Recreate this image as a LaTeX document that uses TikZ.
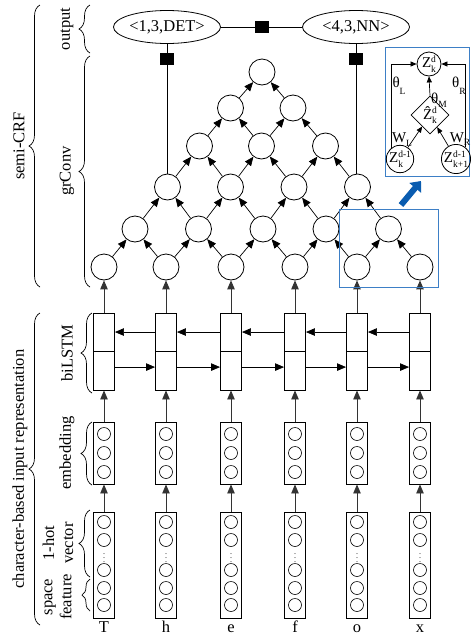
\documentclass[tikz,border=0pt]{standalone}
\usepackage{fontspec}
\setmainfont{Liberation Serif}
\usetikzlibrary{shapes.geometric,decorations.pathreplacing,arrows.meta,calc}
\definecolor{hlblue}{HTML}{3D7FC6}
\definecolor{arrblue}{HTML}{0A5CB0}
\newcommand\supsub[2]{{\fontsize{9.5}{9.5}\selectfont\setbox0\hbox{\raisebox{5.5pt}{#1}}\setbox2\hbox{\raisebox{-4.5pt}{#2}}\ifdim\wd0>\wd2 \rlap{\box2}\box0\else\rlap{\box0}\box2\fi}}
\newcommand\lowsub[2]{{\fontsize{9.5}{9.5}\selectfont\raisebox{#1}{#2}}}
\begin{document}
\begin{tikzpicture}[x=1pt,y=-1pt,
  font=\fontsize{16.5}{19}\selectfont,
  line width=0.7pt,
  >={Triangle[length=9pt,width=7.5pt]},
  gnode/.style={circle,draw,minimum size=26pt,inner sep=0pt,line width=0.8pt},
  unit/.style={circle,draw,minimum size=13pt,inner sep=0pt,line width=0.6pt},
  vecbox/.style={rectangle,draw,minimum width=21pt,inner sep=0pt,line width=0.9pt},
  conn/.style={->,draw=black!80,line width=0.9pt},
  gedge/.style={->,line width=0.7pt},
  factor/.style={rectangle,fill=black,minimum width=14pt,minimum height=12pt,inner sep=0pt},
  outnode/.style={ellipse,draw,minimum width=107pt,minimum height=33pt,inner sep=0pt,line width=0.8pt},
  brc/.style={decorate,decoration={brace,amplitude=11pt},line width=0.7pt},
  lbl/.style={rotate=90,inner sep=0pt},
  hlbox/.style={draw=hlblue,line width=1pt,inner sep=0pt},
  insetfont/.style={font=\fontsize{15}{17}\selectfont},
  iarr/.style={-{Triangle[length=6pt,width=5pt]},line width=0.7pt},
  icirc/.style={circle,draw,minimum size=25pt,inner sep=0pt,line width=0.8pt,insetfont},
]
\useasboundingbox (0,0) rectangle (471,635);

% ---------- input columns ----------
\foreach \i/\xx in {0/104,1/166,2/231,3/295,4/357,5/420} {
  \node[vecbox,minimum height=106pt] (oh\i) at (\xx,565) {};
  \foreach \yy/\k in {522/1,540/2,570/3,588/4,605/5}
    \node[unit] (ou\i-\k) at (\xx,\yy) {};
  \node[inner sep=0pt,font=\fontsize{8}{8}\selectfont] (od\i) at (\xx,555) {$\vdots$};
  \node[vecbox,minimum height=62pt] (em\i) at (\xx,453) {};
  \foreach \yy/\k in {434/1,453/2,472/3}
    \node[unit] (eu\i-\k) at (\xx,\yy) {};
  \node[vecbox,minimum height=77pt] (ls\i) at (\xx,351.5) {};
  \draw[line width=1.3pt] (ls\i.west) -- (ls\i.east);
  \draw[conn] (oh\i.north) -- (em\i.south);
  \draw[conn] (em\i.north) -- (ls\i.south);
}
\foreach \i/\c in {0/T,1/h,2/e,3/f,4/o,5/x}
  \node[anchor=base,inner sep=0pt] (ch\i) at ([yshift=-14pt]oh\i.south) {\c};

% biLSTM recurrent arrows
\foreach \i/\j in {0/1,1/2,2/3,3/4,4/5}{
  \draw[gedge] ($(ls\j.north west)!0.25!(ls\j.south west)$) -- ($(ls\i.north east)!0.25!(ls\i.south east)$);
  \draw[gedge] ($(ls\i.north east)!0.7!(ls\i.south east)$) -- ($(ls\j.north west)!0.7!(ls\j.south west)$);
}

% ---------- grConv ----------
\foreach \j/\yy in {1/267,2/229,3/187,4/146,5/108,6/72}{
  \pgfmathtruncatemacro\last{6-\j}
  \foreach \i in {0,...,\last}{
    \pgfmathtruncatemacro\kk{\i+\j-1}
    \coordinate (m\j-\i) at ($(ls\i)!0.5!(ls\kk)$);
    \node[gnode] (g\j-\i) at (m\j-\i |- 0,\yy) {};
  }
}
\foreach \j in {2,...,6}{
  \pgfmathtruncatemacro\last{6-\j}
  \pgfmathtruncatemacro\pj{\j-1}
  \foreach \i in {0,...,\last}{
    \pgfmathtruncatemacro\ni{\i+1}
    \draw[gedge] (g\pj-\i) -- (g\j-\i);
    \draw[gedge] (g\pj-\ni) -- (g\j-\i);
  }
}
\foreach \i in {0,...,5}
  \draw[conn] (ls\i.north) -- (g1-\i.south);

% ---------- output ----------
\node[outnode] (det) at (167,27) {<1,3,DET>};
\node[outnode] (nn) at (356,27) {<4,3,NN>};
\draw (det.east) -- node[factor] (f0) {} (nn.west);
\draw (det.south) -- node[factor,pos=0.115] (f1) {} (det.south |- g3-0.north);
\draw (nn.south) -- node[factor,pos=0.115] (f2) {} (nn.south |- g3-3.north);

% ---------- highlight and inset ----------
\node[hlbox,minimum width=99pt,minimum height=78pt] (hl) at (388.5,248) {};
\draw[arrblue,line width=6pt,-{Triangle[length=9pt,width=15pt]}] (401,205) -- (421,181);
\node[hlbox,minimum width=84pt,minimum height=129pt] (inset) at (427.5,111.5) {};
\node[icirc,minimum size=24pt] (zt) at (429,64) {Z\supsub{d}{k}};
\node[diamond,draw,minimum size=38pt,inner sep=0pt,line width=0.8pt,insetfont] (zh) at (430,115) {\^{Z}\supsub{d}{k}};
\node[icirc,minimum size=26pt] (zl) at (400,159) {Z\supsub{d-1}{k}};
\node[icirc,minimum size=26pt] (zr) at (456,159) {Z\supsub{d-1}{k+1}};
\draw[iarr] (zl.128) |- (zt.west);
\draw[iarr] (zr.52) |- (zt.east);
\draw[iarr] (zh.north) -- (zt.south);
\draw[iarr] (zl) -- (zh);
\draw[iarr] (zr) -- (zh);
\node[insetfont,inner sep=0pt] (thl) at (399,86) {θ\lowsub{-7pt}{L}};
\node[insetfont,inner sep=0pt] (thr) at (459,86) {θ\lowsub{-7pt}{R}};
\node[insetfont,inner sep=0pt] (thm) at (439,100) {θ\lowsub{-4pt}{M}};
\node[insetfont,inner sep=0pt] (wl) at (402,140) {W\lowsub{-4pt}{L}};
\node[insetfont,inner sep=0pt] (wr) at (460,139) {W\lowsub{-3pt}{R}};

% ---------- braces and labels ----------
\draw[brc] (40,287) -- (40,5);
\node[lbl] (lsemi) at (19,146) {semi-CRF};
\draw[brc] (40,625) -- (40,313);
\node[lbl] (lchar) at (20,469) {character-based input representation};
\draw[brc] (90,53) -- (90,5);
\node[lbl] (lout) at (67,29) {output};
\draw[brc] (90,287) -- (90,56);
\node[lbl] (lgr) at (67,171) {grConv};
\draw[brc] (92,393) -- (92,313);
\node[lbl] (lbi) at (67,353) {biLSTM};
\draw[brc] (92,485) -- (92,422);
\node[lbl] (lemb) at (67,453) {embedding};
\draw[brc] (90,577) -- (90,510);
\node[lbl,align=center] (lhot) at (58,543) {1-hot\\vector};
\draw[brc,decoration={brace,amplitude=8pt}] (90,611) -- (90,579);
\node[lbl,align=center] (lsp) at (58,597) {space\\feature};
\end{tikzpicture}
\end{document}
